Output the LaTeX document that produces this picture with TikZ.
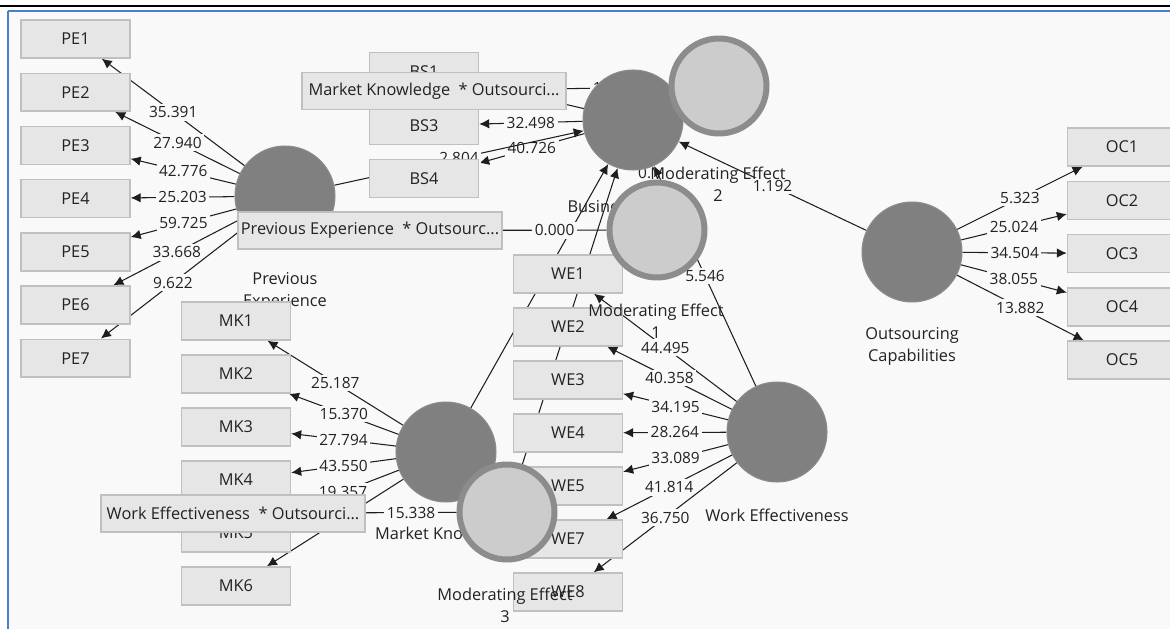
\documentclass[tikz,border=0pt]{standalone}
\usepackage{fontspec}
\setmainfont{Open Sans}
\usetikzlibrary{arrows.meta}
\pgfdeclarelayer{canvas}
\pgfdeclarelayer{paths}
\pgfsetlayers{canvas,paths,main}
\definecolor{canvasColor}{RGB}{249,249,249}
\definecolor{frameBlue}{RGB}{74,126,206}
\definecolor{boxFill}{RGB}{230,230,230}
\definecolor{boxLine}{RGB}{192,192,192}
\definecolor{latentFill}{RGB}{128,128,128}
\definecolor{latentLine}{RGB}{140,140,140}
\definecolor{modFill}{RGB}{204,204,204}
\definecolor{modLine}{RGB}{140,140,140}
\definecolor{lineColor}{RGB}{30,30,30}
\definecolor{textColor}{RGB}{34,34,34}
\newcommand{\labelFont}{\fontsize{9.3}{12.5}\selectfont}
\newcommand{\valueFont}{\fontsize{8.8}{12}\selectfont}
\tikzstyle{indicatorStyle} = [draw=boxLine, fill=boxFill, line width=0.8pt, minimum width=2.18cm, minimum height=0.76cm, inner sep=0pt, text=textColor, font=\labelFont]
\tikzstyle{interactionStyle} = [indicatorStyle, minimum width=5.28cm, minimum height=0.74cm]
\tikzstyle{latentStyle} = [circle, draw=latentLine, fill=latentFill, line width=0.6pt, minimum size=2cm, inner sep=0pt]
\tikzstyle{moderatorStyle} = [circle, draw=modLine, fill=modFill, line width=0.12cm, minimum size=1.9cm, inner sep=0pt]
\tikzstyle{latentText} = [align=center, text=textColor, font=\labelFont]
\tikzstyle{pathLine} = [draw=lineColor, line width=0.6pt, -{Latex[length=0.2cm, width=0.19cm]}]
\tikzstyle{plainLine} = [draw=lineColor, line width=0.6pt]
\tikzstyle{pathText} = [midway, fill=canvasColor, inner sep=1.5pt, text=textColor, font=\valueFont]
\newcommand{\loading}[3]{\draw [pathLine] (#1) -- (#2) node [pathText] {#3};}

\begin{document}
\begin{tikzpicture}[x=0.02cm, y=-0.02cm]
  \clip (0,0) rectangle (1170,629);
  \begin{pgfonlayer}{canvas}
    \fill [white] (0,0) rectangle (1170,629);
    \fill [canvasColor] (8,11) rectangle (1170,629);
    \draw [black, line width=1.2pt] (0,6) -- (1170,6);
    \draw [frameBlue, line width=1.1pt] (8,11) -- (1170,11);
    \draw [frameBlue, line width=1.1pt] (8,11) -- (8,629);
  \end{pgfonlayer}

  % previous experience
  \node [latentStyle] (pe) at (285,196) {};
  \node [latentText] (peText) at (285,291) {Previous\\Experience};
  \foreach \i/\y in {1/39, 2/92.2, 3/145.4, 4/198.6, 5/251.8, 6/305, 7/358.2}
    \node [indicatorStyle] (pe\i) at (75.5,\y) {PE\i};
  \node [interactionStyle] (peo) at (370,230.5) {Previous Experience\ \ * Outsourc...};

  % market knowledge
  \node [latentStyle] (mk) at (446,452) {};
  \node [latentText] (mkText) at (446,535) {Market Knowledge};
  \foreach \i/\y in {1/321, 2/374, 3/427, 4/480, 5/533, 6/586}
    \node [indicatorStyle] (mk\i) at (236,\y) {MK\i};
  \node [interactionStyle] (weo) at (233,513.5) {Work Effectiveness\ \ * Outsourci...};

  % business
  \foreach \i/\y in {1/71.5, 3/125.5, 4/178.5}
    \node [indicatorStyle] (bs\i) at (424,\y) {BS\i};
  \node [interactionStyle] (mko) at (434,91) {Market Knowledge\ \ * Outsourci...};
  \node [latentStyle] (bs) at (633,120) {};
  \node [latentText] (bsText) at (633,207) {Business Success};

  % work effectiveness
  \node [latentStyle] (we) at (777,432) {};
  \node [latentText] (weText) at (777,515) {Work Effectiveness};
  \foreach \i/\y in {1/274, 2/327, 3/380, 4/433, 5/486, 7/539, 8/592}
    \node [indicatorStyle] (we\i) at (568,\y) {WE\i};

  % moderators
  \node [moderatorStyle] (me1) at (657,230) {};
  \node [latentText] (me1Text) at (656,321.5) {Moderating Effect\\1};
  \node [moderatorStyle] (me2) at (719,86) {};
  \node [latentText] (me2Text) at (718,184) {Moderating Effect\\2};
  \node [moderatorStyle] (me3) at (507,512) {};
  \node [latentText] (me3Text) at (505,605) {Moderating Effect\\3};

  % outsourcing capabilities
  \node [latentStyle] (oc) at (912,252) {};
  \node [latentText] (ocText) at (912,346) {Outsourcing\\Capabilities};
  \foreach \i/\y in {1/147, 2/200.5, 3/253.5, 4/307, 5/360}
    \node [indicatorStyle] (oc\i) at (1122,\y) {OC\i};

  \begin{pgfonlayer}{paths}
    % outer loadings
    \foreach \i/\v in {1/35.391, 2/27.940, 3/42.776, 4/25.203, 5/59.725, 6/33.668, 7/9.622}
      {\loading{pe}{pe\i}{\v}}
    \foreach \i/\v in {1/25.187, 2/15.370, 3/27.794, 4/43.550, 5/19.357}
      {\loading{mk}{mk\i}{\v}}
    \draw [pathLine] (mk) -- (mk6);
    \draw [pathLine] (bs) -- (bs1);
    \loading{bs}{bs3}{32.498}
    \loading{bs}{bs4}{40.726}
    \foreach \i/\v in {1/44.495, 2/40.358, 3/34.195, 4/28.264, 5/33.089, 7/41.814, 8/36.750}
      {\loading{we}{we\i}{\v}}
    \foreach \i/\v in {1/5.323, 2/25.024, 3/34.504, 4/38.055, 5/13.882}
      {\loading{oc}{oc\i}{\v}}

    % inner model
    \draw [pathLine] (pe) -- (bs) node [pathText] {2.804};
    \draw [pathLine] (mk) -- (bs);
    \draw [pathLine] (me3) -- (bs);
    \draw [pathLine] (we) -- (bs) node [pathText] {5.546};
    \draw [pathLine] (oc) -- (bs) node [pathText] {1.192};
    \draw [pathLine] (me1) -- (bs) node [pathText, pos=0.65] {0.};

    % interaction terms
    \draw [plainLine] (peo) -- (me1) node [pathText] {0.000};
    \draw [plainLine] (mko) -- (me2) node [pathText, pos=0.3] {1};
    \draw [plainLine] (weo) -- (me3) node [pathText] {15.338};
  \end{pgfonlayer}
\end{tikzpicture}
\end{document}
